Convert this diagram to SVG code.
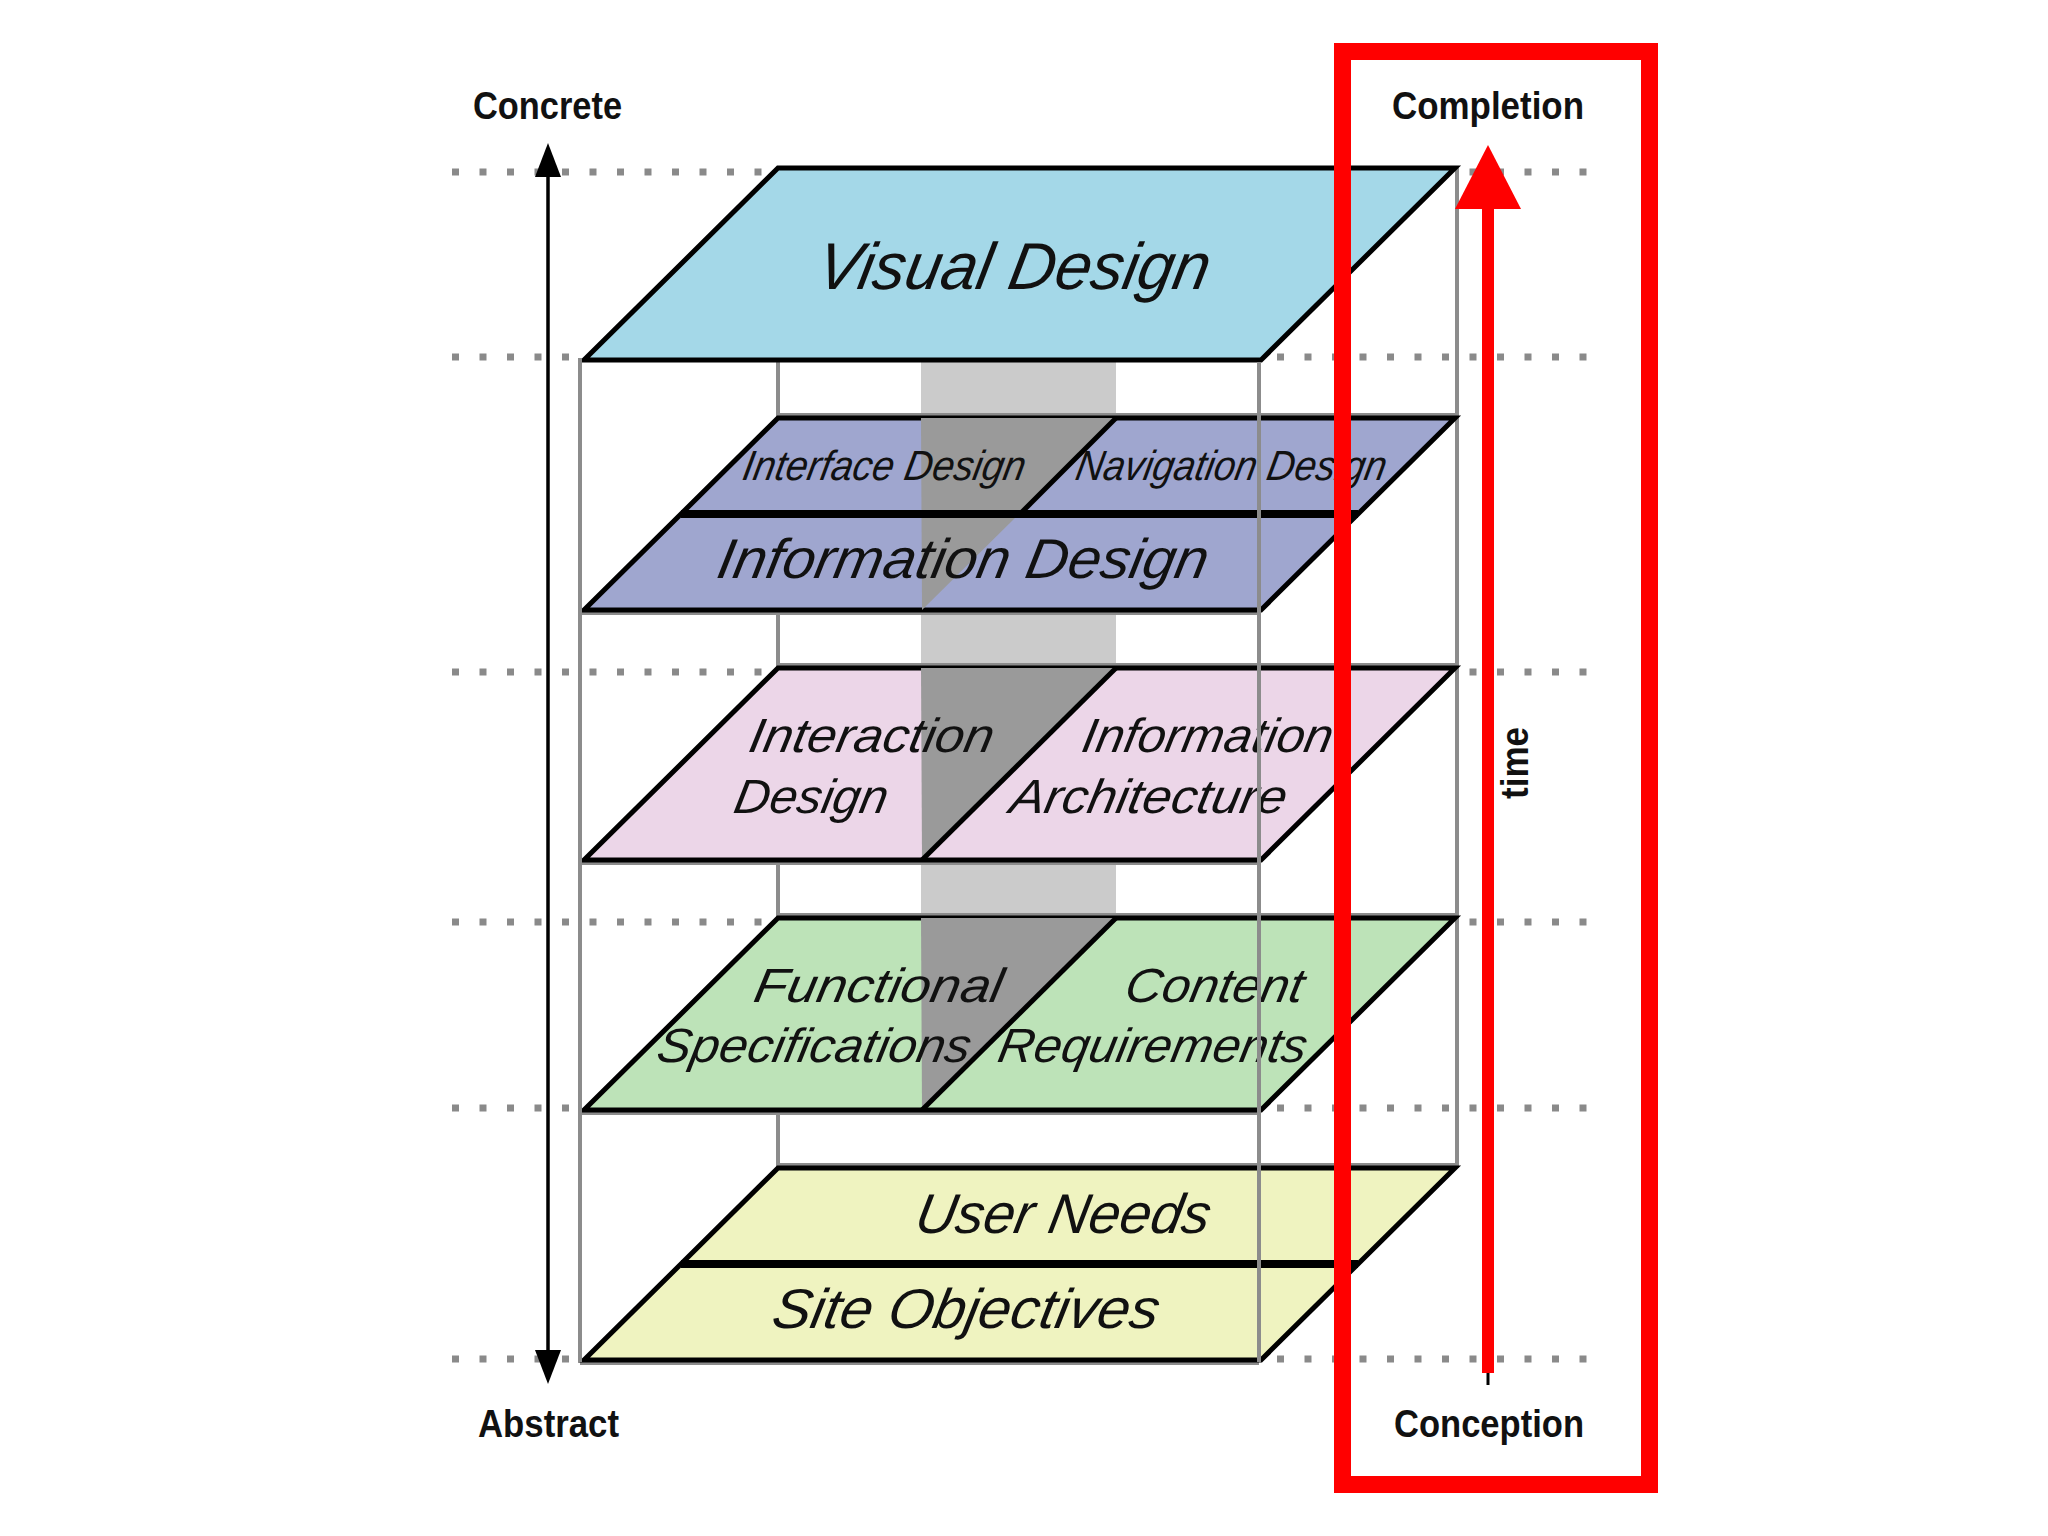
<svg xmlns="http://www.w3.org/2000/svg" width="2048" height="1536" viewBox="0 0 2048 1536">
<style>
.dots{stroke:#8a8a8a;stroke-width:7;stroke-dasharray:7 20.5;fill:none}
.frame{stroke:#8c8c8c;stroke-width:4;fill:none}
.plane{stroke:#000;stroke-width:5;stroke-linejoin:miter}
.div{stroke:#000;stroke-width:8}
.split{stroke:#000;stroke-width:5}
.dark{fill:#9a9a9a}
.lbl{font-family:'Liberation Sans',Arial,sans-serif;font-style:italic;fill:#111}
.axis{font-family:'Liberation Sans',Arial,sans-serif;font-weight:bold;font-size:39px;fill:#111}
</style>
<rect width="2048" height="1536" fill="#fff"/>
<g id="guides">
<line class="dots" x1="452" y1="172" x2="1592" y2="172"/>
<line class="dots" x1="452" y1="357" x2="1592" y2="357"/>
<line class="dots" x1="452" y1="672" x2="1592" y2="672"/>
<line class="dots" x1="452" y1="922" x2="1592" y2="922"/>
<line class="dots" x1="452" y1="1108" x2="1592" y2="1108"/>
<line class="dots" x1="452" y1="1359" x2="1592" y2="1359"/>
</g>
<g id="frame-back">
<line class="frame" x1="778" y1="360" x2="778" y2="1168"/>
<line class="frame" x1="1457" y1="168" x2="1457" y2="1168"/>
<rect x="921" y="360" width="195" height="560" fill="#cbcbcb"/>
<line class="frame" x1="778" y1="415" x2="1457" y2="415"/>
<line class="frame" x1="580" y1="613" x2="1259" y2="613"/>
<line class="frame" x1="778" y1="665" x2="1457" y2="665"/>
<line class="frame" x1="580" y1="863" x2="1259" y2="863"/>
<line class="frame" x1="778" y1="915" x2="1457" y2="915"/>
<line class="frame" x1="580" y1="1113" x2="1259" y2="1113"/>
<line class="frame" x1="778" y1="1165" x2="1457" y2="1165"/>
<line class="frame" x1="580" y1="1363" x2="1259" y2="1363"/>
</g>
<g id="visual-design">
<polygon class="plane" points="778,168 1455,168 1261,360 584,360" fill="#a4d8e8"/>
<text class="lbl" x="814" y="289" font-size="66" textLength="392" lengthAdjust="spacingAndGlyphs" transform="matrix(1 0 -0.19 1 54.91 0)">Visual Design</text>
</g>
<g id="information-design">
<polygon class="plane" points="778,418 1455,418 1261,610 584,610" fill="#9fa6cf"/>
<polygon class="dark" points="921,418 1116,418 922,610"/>
<line class="split" x1="1116" y1="418" x2="1020" y2="514"/>
<line class="div" x1="681" y1="514" x2="1358" y2="514"/>
<text class="lbl" x="741" y="480" font-size="42" textLength="282" lengthAdjust="spacingAndGlyphs" transform="matrix(1 0 -0.19 1 91.2 0)">Interface Design</text>
<text class="lbl" x="1074" y="480" font-size="42" textLength="310" lengthAdjust="spacingAndGlyphs" transform="matrix(1 0 -0.19 1 91.2 0)">Navigation Design</text>
<text class="lbl" x="715" y="578" font-size="56" textLength="490" lengthAdjust="spacingAndGlyphs" transform="matrix(1 0 -0.19 1 109.82 0)">Information Design</text>
</g>
<g id="interaction-ia">
<polygon class="plane" points="778,668 1455,668 1261,860 584,860" fill="#ecd6e8"/>
<polygon class="dark" points="921,668 1116,668 922,860"/>
<line class="split" x1="1116" y1="668" x2="922" y2="860"/>
<text class="lbl" x="747" y="752" font-size="48" textLength="244" lengthAdjust="spacingAndGlyphs" transform="matrix(1 0 -0.19 1 142.88 0)">Interaction</text>
<text class="lbl" x="732" y="813" font-size="48" textLength="153" lengthAdjust="spacingAndGlyphs" transform="matrix(1 0 -0.19 1 154.47 0)">Design</text>
<text class="lbl" x="1080" y="752" font-size="48" textLength="250" lengthAdjust="spacingAndGlyphs" transform="matrix(1 0 -0.19 1 142.88 0)">Information</text>
<text class="lbl" x="1008" y="813" font-size="48" textLength="276" lengthAdjust="spacingAndGlyphs" transform="matrix(1 0 -0.19 1 154.47 0)">Architecture</text>
</g>
<g id="functional-content">
<polygon class="plane" points="778,918 1455,918 1261,1110 584,1110" fill="#bde3b8"/>
<polygon class="dark" points="921,918 1116,918 922,1110"/>
<line class="split" x1="1116" y1="918" x2="922" y2="1110"/>
<text class="lbl" x="752" y="1002" font-size="48" textLength="248" lengthAdjust="spacingAndGlyphs" transform="matrix(1 0 -0.19 1 190.38 0)">Functional</text>
<text class="lbl" x="655" y="1062" font-size="48" textLength="313" lengthAdjust="spacingAndGlyphs" transform="matrix(1 0 -0.19 1 201.78 0)">Specifications</text>
<text class="lbl" x="1123" y="1002" font-size="48" textLength="178" lengthAdjust="spacingAndGlyphs" transform="matrix(1 0 -0.19 1 190.38 0)">Content</text>
<text class="lbl" x="996" y="1062" font-size="48" textLength="308" lengthAdjust="spacingAndGlyphs" transform="matrix(1 0 -0.19 1 201.78 0)">Requirements</text>
</g>
<g id="user-site">
<polygon class="plane" points="778,1168 1455,1168 1261,1360 584,1360" fill="#eff3c0"/>
<line class="div" x1="681" y1="1264" x2="1358" y2="1264"/>
<text class="lbl" x="913" y="1233" font-size="56" textLength="294" lengthAdjust="spacingAndGlyphs" transform="matrix(1 0 -0.19 1 234.27 0)">User Needs</text>
<text class="lbl" x="770" y="1328" font-size="56" textLength="386" lengthAdjust="spacingAndGlyphs" transform="matrix(1 0 -0.19 1 252.32 0)">Site Objectives</text>
</g>
<g id="frame-front">
<line class="frame" x1="580" y1="358" x2="580" y2="1362"/>
<line class="frame" x1="1259" y1="362" x2="1259" y2="1362"/>
</g>
<g id="connectors">
<line x1="548" y1="170" x2="548" y2="1355" stroke="#000" stroke-width="3.5"/>
<polygon points="548,143 535,177 561,177" fill="#000"/>
<polygon points="548,1384 535,1350 561,1350" fill="#000"/>
<line x1="1488" y1="1370" x2="1488" y2="1385" stroke="#000" stroke-width="3"/>
<rect x="1482" y="204" width="12" height="1169" fill="#ff0000"/>
<polygon points="1488,145 1455,209 1521,209" fill="#ff0000"/>
</g>
<g id="highlight">
<rect x="1342.5" y="51.5" width="307" height="1433" fill="none" stroke="#ff0000" stroke-width="17"/>
</g>
<g id="labels">
<text class="axis" x="473" y="119" textLength="149" lengthAdjust="spacingAndGlyphs">Concrete</text>
<text class="axis" x="1392" y="119" textLength="192" lengthAdjust="spacingAndGlyphs">Completion</text>
<text class="axis" x="478" y="1437" textLength="141" lengthAdjust="spacingAndGlyphs">Abstract</text>
<text class="axis" x="1394" y="1437" textLength="190" lengthAdjust="spacingAndGlyphs">Conception</text>
<text class="axis" x="1528" y="763" text-anchor="middle" font-size="36" textLength="72" lengthAdjust="spacingAndGlyphs" transform="rotate(-90 1528 763)">time</text>
</g>
</svg>
